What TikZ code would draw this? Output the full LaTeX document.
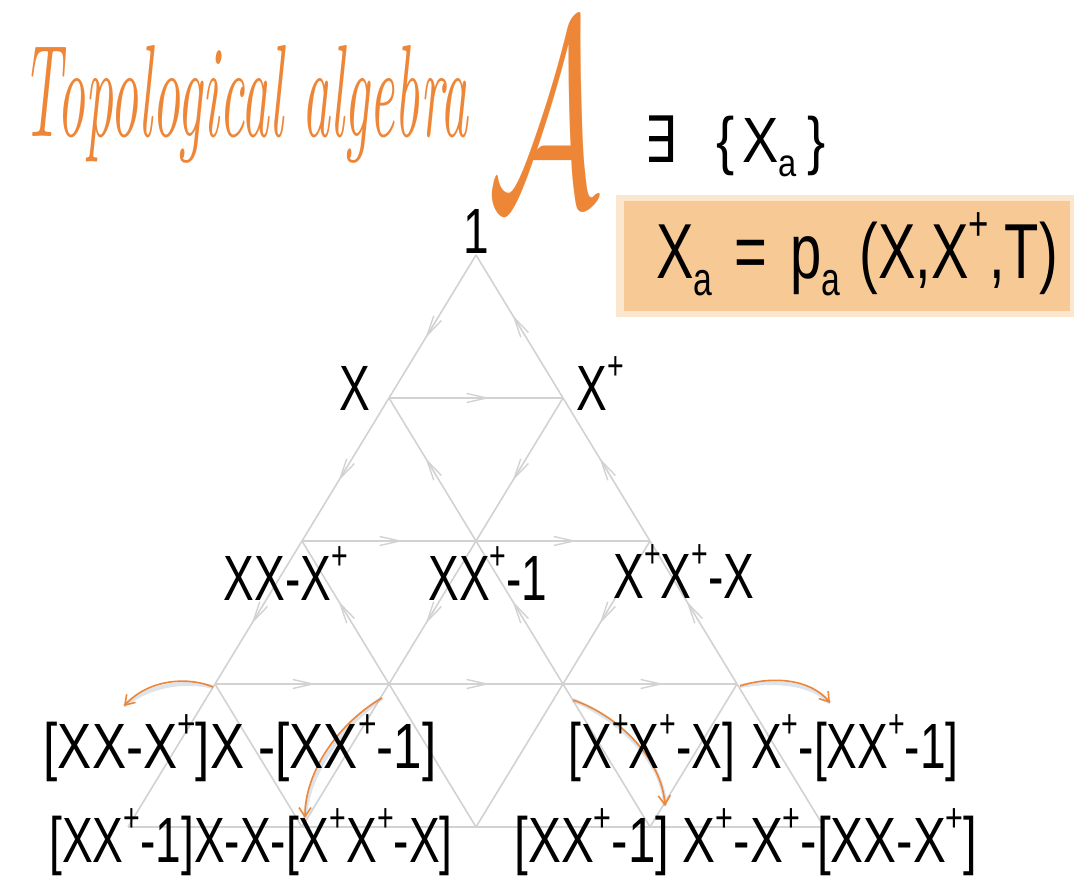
\documentclass[tikz,border=0pt]{standalone}
\usepackage{fontspec}
\usepackage{graphicx}
\setmainfont{Latin Modern Roman}
\newfontfamily\hf{Liberation Sans}
\newfontfamily\dv{DejaVu Sans}
\usetikzlibrary{arrows.meta,decorations.markings}
\definecolor{edgegray}{HTML}{D2D2D2}
\definecolor{tangerine}{HTML}{EE8638}
\definecolor{peach}{HTML}{F7C994}
\definecolor{shade}{HTML}{8FA6BF}
\newcommand\Sp[1]{\raisebox{0.48em}{\scalebox{0.62}{#1}}}
\newcommand\Sb[1]{\raisebox{-0.22em}{\scalebox{0.6}{#1}}}
\newcommand\Xp{X\Sp{+}}
\newcommand\hx[2][0.72]{\scalebox{#1}[1]{#2}}
\tikzset{
  edge/.style={draw=edgegray, color=edgegray, line width=1.6pt},
  flow/.style={edge, decoration={markings, mark=at position 0.58 with {\arrow{Straight Barb[length=20pt,width=9pt,line width=1.4pt]}}}, postaction={decorate}},
  lab/.style={font={\hf\fontsize{64}{70}\selectfont}, inner sep=0pt, anchor=base, text=black},
  labbig/.style={font={\hf\fontsize{78}{84}\selectfont}, inner sep=0pt, anchor=base, text=black},
  orangearrow/.style={draw=tangerine, line width=1.6pt, -{Straight Barb[length=9pt,width=12pt]}},
  shadowline/.style={draw=shade, line width=4pt, opacity=0.3, shift={(2,4)}},
}
\begin{document}
\begin{tikzpicture}[x=1pt,y=-1pt]
\useasboundingbox (0,0) rectangle (1074,879);
\fill[white] (0,0) rectangle (1074,879);

% peach box
\fill[peach, opacity=0.45] (616,195) rectangle (1074,317);
\fill[peach] (624,201) rectangle (1070,311);

% grid vertices
\coordinate (v00) at (476,255);
\coordinate (v10) at (389,398);
\coordinate (v11) at (563,398);
\coordinate (v20) at (302,541);
\coordinate (v21) at (476,541);
\coordinate (v22) at (650,541);
\coordinate (v30) at (215,684);
\coordinate (v31) at (389,684);
\coordinate (v32) at (563,684);
\coordinate (v33) at (737,684);
\coordinate (v40) at (128,827);
\coordinate (v41) at (302,827);
\coordinate (v42) at (476,827);
\coordinate (v43) at (650,827);
\coordinate (v44) at (824,827);

% directed edges
\draw[flow] (v00) -- (v10);
\draw[flow] (v11) -- (v00);
\draw[flow] (v10) -- (v11);
\draw[flow] (v10) -- (v20);
\draw[flow] (v21) -- (v10);
\draw[flow] (v11) -- (v21);
\draw[flow] (v22) -- (v11);
\draw[flow] (v20) -- (v21);
\draw[flow] (v21) -- (v22);
\draw[flow] (v20) -- (v30);
\draw[flow] (v31) -- (v20);
\draw[flow] (v21) -- (v31);
\draw[flow] (v32) -- (v21);
\draw[flow] (v22) -- (v32);
\draw[flow] (v33) -- (v22);
\draw[flow] (v30) -- (v31);
\draw[flow] (v31) -- (v32);
\draw[flow] (v32) -- (v33);
% plain edges
\draw[edge] (v30) -- (v40);
\draw[edge] (v30) -- (v41);
\draw[edge] (v31) -- (v41);
\draw[edge] (v31) -- (v42);
\draw[edge] (v32) -- (v42);
\draw[edge] (v32) -- (v43);
\draw[edge] (v33) -- (v43);
\draw[edge] (v33) -- (v44);
\draw[edge] (v40) -- (v44);

% orange arrows
\coordinate (a1s) at (213,687);
\coordinate (a1e) at (124,706);
\coordinate (a2s) at (382,698);
\coordinate (a2e) at (305,818);
\coordinate (a3s) at (573,700);
\coordinate (a3e) at (665,806);
\coordinate (a4s) at (740,686);
\coordinate (a4e) at (830,703);
\draw[shadowline] (a1s) .. controls (190,677) and (150,678) .. (a1e);
\draw[shadowline] (a2s) .. controls (340,722) and (305,770) .. (a2e);
\draw[shadowline] (a3s) .. controls (620,716) and (662,760) .. (a3e);
\draw[shadowline] (a4s) .. controls (770,676) and (810,678) .. (a4e);
\draw[orangearrow] (a1s) .. controls (190,677) and (150,678) .. (a1e);
\draw[orangearrow] (a2s) .. controls (340,722) and (305,770) .. (a2e);
\draw[orangearrow] (a3s) .. controls (620,716) and (662,760) .. (a3e);
\draw[orangearrow] (a4s) .. controls (770,676) and (810,678) .. (a4e);

% title
\node[anchor=north west, inner sep=0pt, text=tangerine] (title) at (22,45)
  {\resizebox*{446pt}{118pt}{\itshape Topological algebra}};
\node[anchor=base west, inner sep=0pt, text=tangerine] (bigA) at (474,204)
  {\scalebox{14}[26.6]{$\rule[-0.8pt]{0pt}{8.6pt}\hspace{1pt}\mathcal{A}\hspace{1.5pt}$}};

% exists set
\node[anchor=base west, inner sep=0pt, font={\dv\fontsize{64}{70}\selectfont}] (exists) at (644,162) {\hx[0.8]{∃}};
\node[lab, anchor=base west] (set) at (716,162) {\hx[0.85]{\{\hspace{0.15em}X\Sb{a}\hspace{0.2em}\}}};

% formula
\node[labbig] (formula) at (857,278) {\hx{X\Sb{a}\hspace{0.4em}=\hspace{0.4em}p\Sb{a}\hspace{0.35em}(X,\Xp,T)}};

% vertex labels
\node[lab] (one) at (476,253) {\hx{1}};
\node[lab] (lx) at (355,410) {\hx{X}};
\node[lab] (lxp) at (600,410) {\hx{\Xp}};
\node[lab] (l20) at (286,600) {\hx{XX-\Xp}};
\node[lab] (l21) at (488,600) {\hx{X\Xp-1}};
\node[lab] (l22) at (684,598) {\hx{\Xp\Xp-X}};
\node[lab] (l30) at (240,768) {\hx[0.8]{[XX-\Xp]X -[X\Xp-1]}};
\node[lab] (l31) at (652,768) {\hx{[\Xp\Xp-X]}};
\node[lab] (l32) at (855,768) {\hx{\Xp-[X\Xp-1]}};
\node[lab] (l40) at (251,862) {\hx{[X\Xp-1]X-X-[\Xp\Xp-X]}};
\node[lab] (l41) at (746,862) {\hx[0.77]{[X\Xp-1] \Xp-\Xp-[XX-\Xp]}};
\end{tikzpicture}
\end{document}
